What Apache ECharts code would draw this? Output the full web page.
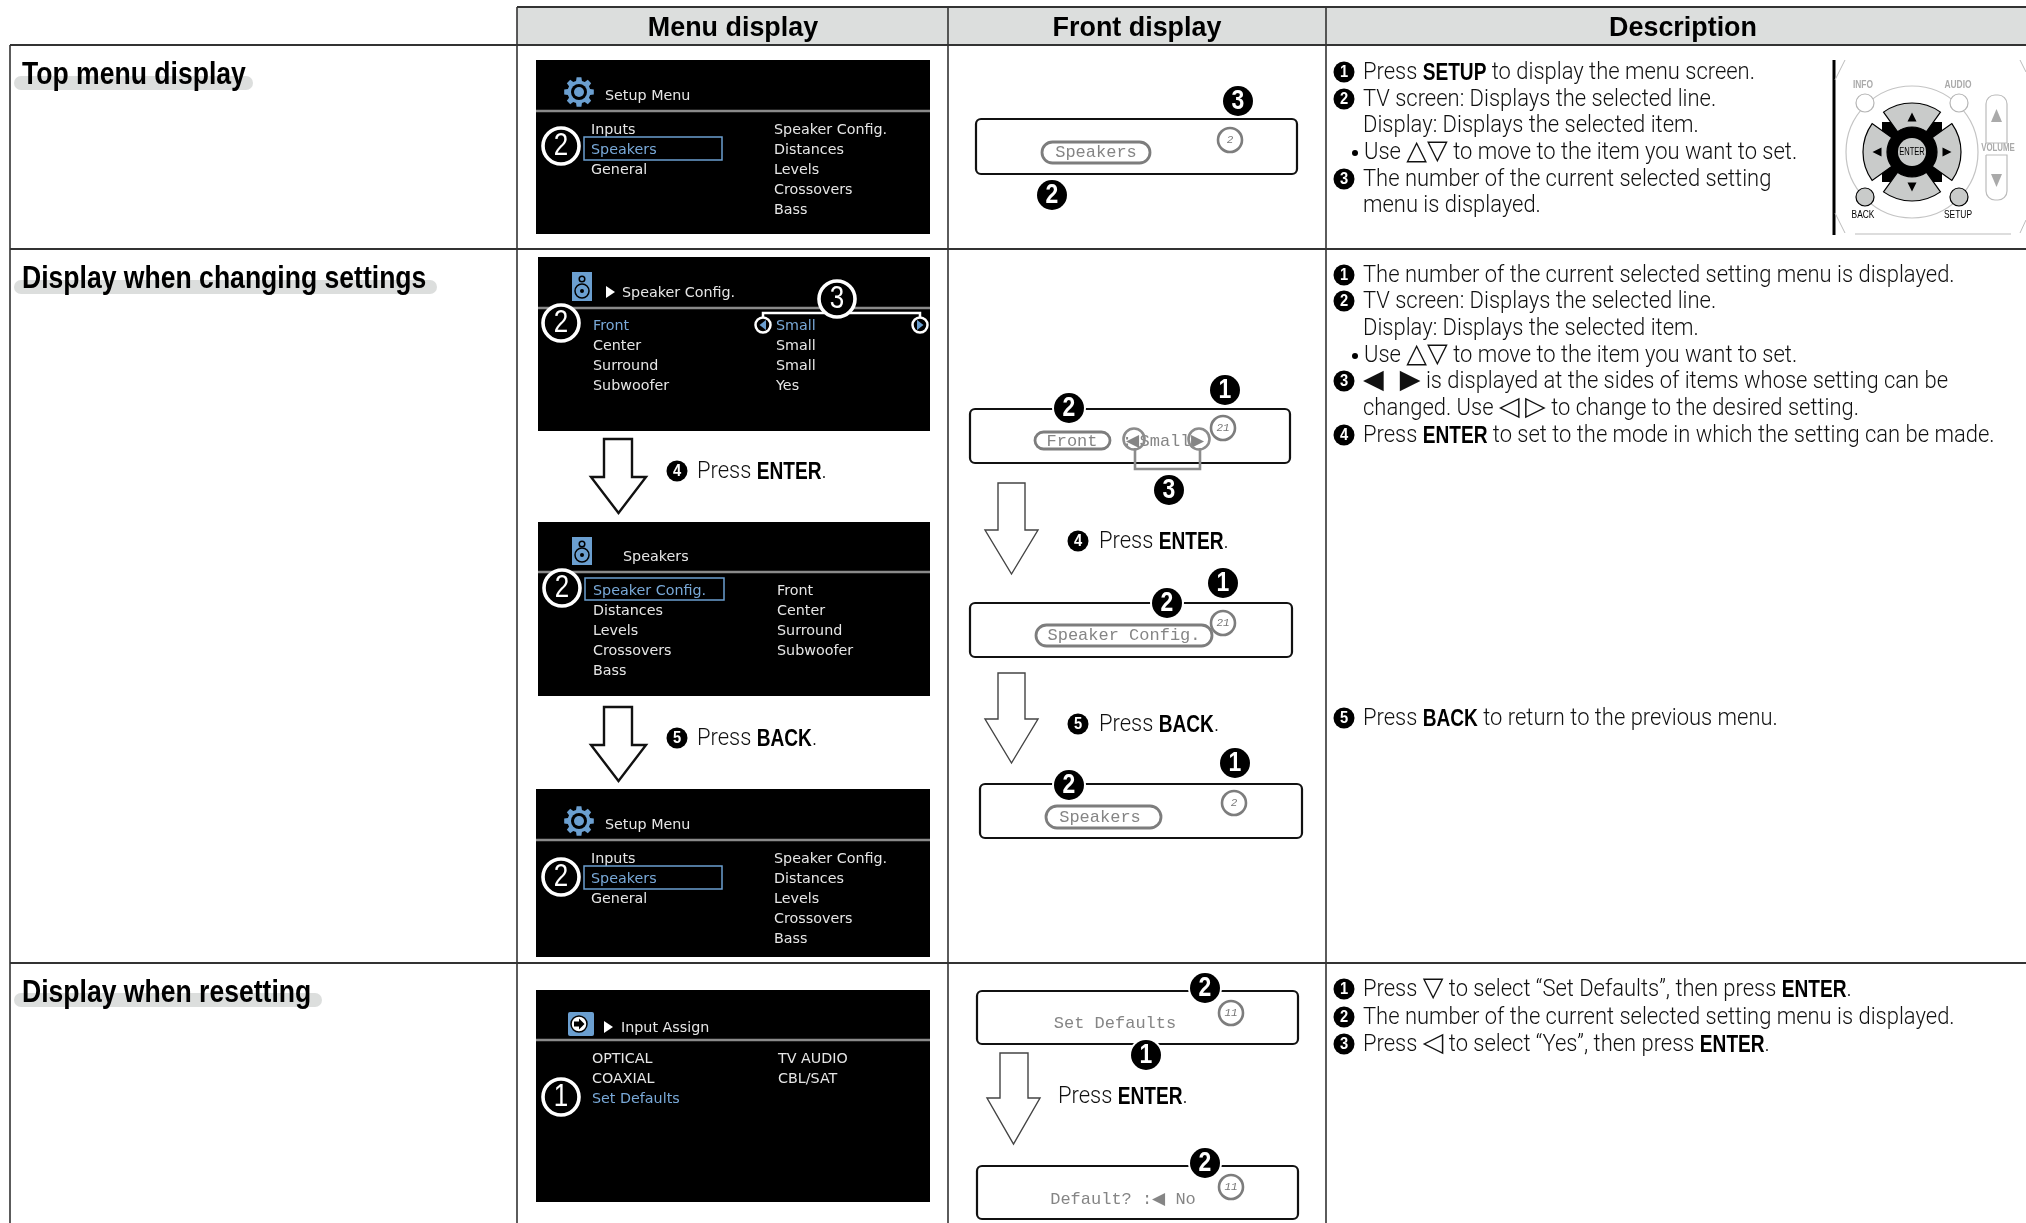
<!DOCTYPE html>
<html><head><meta charset="utf-8">
<style>html,body{margin:0;padding:0;background:#fff}#c{width:2026px;height:1223px}</style>
<script src="https://cdn.jsdelivr.net/npm/echarts@6/dist/echarts.min.js"></script>
</head><body><div id="c"></div>
<script>
// ---------- content ----------
const columnHeaders = ['Menu display','Front display','Description'];
const sectionTitles = ['Top menu display','Display when changing settings','Display when resetting'];
const setupTitle = 'Setup Menu';
const setupLeft = ['Inputs','Speakers','General'];
const setupRight = ['Speaker Config.','Distances','Levels','Crossovers','Bass'];
const configTitle = 'Speaker Config.';
const configLeft = ['Front','Center','Surround','Subwoofer'];
const configRight = ['Small','Small','Small','Yes'];
const speakersTitle = 'Speakers';
const speakersLeft = ['Speaker Config.','Distances','Levels','Crossovers','Bass'];
const speakersRight = ['Front','Center','Surround','Subwoofer'];
const inputTitle = 'Input Assign';
const inputLeft = ['OPTICAL','COAXIAL','Set Defaults'];
const inputRight = ['TV AUDIO','CBL/SAT'];
const descTop = [
 ['1','Press **SETUP** to display the menu screen.'],
 ['2','TV screen: Displays the selected line.'],
 ['','Display: Displays the selected item.'],
 ['•','Use △▽ to move to the item you want to set.'],
 ['3','The number of the current selected setting'],
 ['','menu is displayed.']];
const descChange = [
 ['1','The number of the current selected setting menu is displayed.'],
 ['2','TV screen: Displays the selected line.'],
 ['','Display: Displays the selected item.'],
 ['•','Use △▽ to move to the item you want to set.'],
 ['3','◀   ▶ is displayed at the sides of items whose setting can be'],
 ['','changed. Use ◁ ▷ to change to the desired setting.'],
 ['4','Press **ENTER** to set to the mode in which the setting can be made.']];
const descBack = [['5','Press **BACK** to return to the previous menu.']];
const descReset = [
 ['1','Press ▽ to select “Set Defaults”, then press **ENTER**.'],
 ['2','The number of the current selected setting menu is displayed.'],
 ['3','Press ◁ to select “Yes”, then press **ENTER**.']];
const remoteLabels = ['INFO','AUDIO','BACK','SETUP','VOLUME','ENTER'];

// ---------- style + helpers ----------
const SANS='"Liberation Sans"', BODY='Roboto', MENU='"DejaVu Sans"', LCD='"Liberation Mono"';
const BLUE='#79a9d8', ICON='#6b9fd0', GREY='#dcdedd', RING='#7d7d7d';
const E=[];
const rect=(x1,y1,x2,y2,o={})=>E.push({type:'rect',silent:true,shape:{x:x1,y:y1,width:x2-x1,height:y2-y1,r:o.r||0},style:{fill:o.fill||'none',stroke:o.stroke||null,lineWidth:o.lw||0}});
const line=(x1,y1,x2,y2,c='#333',lw=1.5)=>E.push({type:'line',silent:true,shape:{x1,y1,x2,y2},style:{stroke:c,lineWidth:lw}});
const circle=(cx,cy,r,o={})=>E.push({type:'circle',silent:true,shape:{cx,cy,r},style:{fill:o.fill||'none',stroke:o.stroke||null,lineWidth:o.lw||0}});
const poly=(points,o={})=>E.push({type:'polygon',silent:true,shape:{points},style:{fill:o.fill||'none',stroke:o.stroke||null,lineWidth:o.lw||0}});
const pline=(points,c,lw)=>E.push({type:'polyline',silent:true,shape:{points},style:{stroke:c,lineWidth:lw,fill:'none'}});
const text=(x,y,t,o={})=>E.push({type:'text',silent:true,scaleX:o.sx||1,x:x,y:y,style:{x:0,y:0,text:t,fill:o.fill||'#000',fontFamily:o.font||BODY,fontSize:o.size||21,fontWeight:o.weight||'normal',fontStyle:o.style||'normal',textAlign:o.align||'left',textVerticalAlign:'middle'}});
// mixed-font line: each run is its own text element, placed after the measured width of the previous run
const mctx=document.createElement('canvas').getContext('2d');
const runStyles={
  a:{font:BODY,size:23,weight:300,sx:0.955,fill:'#111',dy:2},
  b:{font:SANS,size:24.5,weight:'bold',sx:0.78,fill:'#000',dy:2},
  s:{font:MENU,size:27,weight:'normal',sx:1,fill:'#111',dy:1}
};
function bodyText(x,y,s){
  const runs=[];
  s.split('**').forEach((part,i)=>{
    if(i%2){runs.push(['b',part]);return;}
    part.split(/([△▽◁▷◀▶])/).forEach((p,j)=>{ if(p) runs.push([j%2?'s':'a',p]); });
  });
  let cx=x;
  runs.forEach(([k,t])=>{
    const st=runStyles[k];
    mctx.font=st.weight+' '+st.size+'px '+st.font;
    text(cx,y+st.dy,t,st);
    cx+=mctx.measureText(t).width*st.sx;
  });
}
function bullet(cx,cy,d,r=10.5){circle(cx,cy+1,r,{fill:'#000'});text(cx,cy+1.5,d,{font:SANS,weight:'bold',size:r*1.65,sx:.85,fill:'#fff',align:'center'});}
function bubble(cx,cy,d,r=15){circle(cx,cy,r+2,{fill:'#fff'});circle(cx,cy,r,{fill:'#000'});text(cx,cy+1,d,{font:SANS,weight:'bold',size:r*1.8,sx:.85,fill:'#fff',align:'center'});}
function ring(cx,cy,d,r=18){circle(cx,cy,r,{fill:'#000',stroke:'#fff',lw:3.6});text(cx,cy+1,d,{font:SANS,size:r*1.7,sx:.85,fill:'#fff',align:'center'});}
function descBlock(list,x,ys){list.forEach((l,i)=>{const y=ys[i];
  if(l[0]==='•'){circle(x-8,y+2,3,{fill:'#000'});bodyText(x+1,y,l[1]);return;}
  if(l[0]) bullet(x-19,y,l[0]);
  bodyText(x,y,l[1]);});}

function gear(cx,cy){const pts=[];const n=8;for(let i=0;i<n;i++){const a=i/n*2*Math.PI-Math.PI/2;
  [-.26,-.16,.16,.26].forEach((d,k)=>{const R=k==0||k==3?11.5:15;pts.push([cx+R*Math.cos(a+d),cy+R*Math.sin(a+d)]);});}
  poly(pts,{fill:ICON});circle(cx,cy,8,{fill:'#000'});circle(cx,cy,5,{fill:ICON});}
function speakerIcon(x1,y1,x2,y2){rect(x1,y1,x2,y2,{fill:ICON});const cx=(x1+x2)/2;circle(cx,y1+7,2.8,{stroke:'#000',lw:1.5});circle(cx,y2-10,7,{stroke:'#000',lw:1.5});circle(cx,y2-10,2,{fill:'#000'});}
function inputIcon(x1,y1,x2,y2){rect(x1,y1,x2,y2,{fill:ICON,r:2});const cx=(x1+x2)/2-2,cy=(y1+y2)/2;circle(cx,cy,8,{fill:'#fff',stroke:'#000',lw:1.5});poly([[cx-5,cy-2.5],[cx,cy-2.5],[cx,cy-5.5],[cx+5.5,cy],[cx,cy+5.5],[cx,cy+2.5],[cx-5,cy+2.5]],{fill:'#000'});}

function screen(o){
  rect(o.x1,o.y1,o.x2,o.y2,{fill:'#000'});
  line(o.x1,o.rule,o.x2,o.rule,'#8a8a8a',2.5);
  if(o.arrow) poly([[o.arrow,o.ty-6],[o.arrow+9,o.ty],[o.arrow,o.ty+6]],{fill:'#fff'});
  text(o.tx,o.ty+1,o.title,{font:MENU,size:14.3,fill:'#e6e6e6'});
  o.left.forEach((t,i)=>text(o.c1,o.row+1+i*20,t,{font:MENU,size:14.3,fill:i===o.hi?BLUE:'#e6e6e6'}));
  o.right.forEach((t,i)=>text(o.c2,o.row+1+i*20,t,{font:MENU,size:14.3,fill:i===o.hiR?BLUE:'#e6e6e6'}));
}
function arrow(x1,x2,wl,wr,top,sh,tip,c,lw){const mid=(wl+wr)/2;poly([[x1,top],[x2,top],[x2,sh],[wr,sh],[mid,tip],[wl,sh],[x1,sh]],{fill:'#fff',stroke:c,lw});}
function lcd(x1,y1,x2,y2){rect(x1,y1,x2,y2,{stroke:'#111',lw:2.2,r:5,fill:'#fff'});}
function pill(x1,y1,x2,y2){rect(x1,y1,x2,y2,{stroke:RING,lw:2.8,r:(y2-y1)/2,fill:'#fff'});}
const lcdText=(cx,cy,t,sz=17)=>text(cx,cy,t,{font:LCD,size:sz,fill:'#858585',align:'center'});
function mini(cx,cy,t){circle(cx,cy,12,{stroke:RING,lw:2.6,fill:'#fff'});text(cx,cy,t,{font:LCD,size:11,fill:'#777',align:'center',style:'italic'});}
const pressText=bodyText;

// ---------- table ----------
const W=2026,H=1223;
rect(517,7,W,45,{fill:GREY});
const tableC='#333';
line(517,7,W,7,tableC,1.8);
line(10,45,W,45,tableC,2);
line(10,249,W,249,tableC,2);
line(10,963,W,963,tableC,2);
line(10,45,10,H,tableC,1.6);
line(517,7,517,H,tableC,1.6);
line(948,7,948,H,tableC,1.6);
line(1326,7,1326,H,tableC,1.6);
[733,1137,1683].forEach((x,i)=>text(x,28.5,columnHeaders[i],{font:SANS,weight:'bold',size:28,sx:.96,align:'center'}));
[[14,253,76,90,75],[14,437,280,294,279],[14,322,993,1007,993]].forEach((r,i)=>{
  rect(r[0],r[2],r[1],r[3],{fill:GREY,r:7});
  text(22,r[4],sectionTitles[i],{font:SANS,weight:'bold',size:32,sx:.83});
});

// ---------- menu column ----------
screen({x1:536,x2:930,y1:60,y2:234,rule:111,title:setupTitle,tx:605,ty:95,left:setupLeft,right:setupRight,c1:591,c2:774,row:129,hi:1});
gear(579,92);rect(584,137,722,160,{stroke:ICON,lw:1.5});ring(561,146,'2');

screen({x1:538,x2:930,y1:257,y2:431,rule:308,title:configTitle,tx:622,ty:292,arrow:606,left:configLeft,right:configRight,c1:593,c2:776,row:325,hi:0,hiR:0});
speakerIcon(572,272,592,301);ring(561,323,'2');
pline([[763,325],[763,313],[920,313],[920,325]],'#fff',2.5);
[[763,1],[920,-1]].forEach(([x,d])=>{circle(x,325,7.5,{fill:'#000',stroke:'#fff',lw:2.5});poly([[x+3*d,320],[x+3*d,330],[x-3.5*d,325]],{fill:ICON});});
ring(837,299,'3');

arrow(604,632,591,646,439,477,513,'#111',2.4);
bullet(677,470,'4');pressText(697,470,'Press **ENTER**.');

screen({x1:538,x2:930,y1:522,y2:696,rule:572,title:speakersTitle,tx:623,ty:556,left:speakersLeft,right:speakersRight,c1:593,c2:777,row:590,hi:0});
speakerIcon(572,537,592,565);rect(585,578,724,600,{stroke:ICON,lw:1.5});ring(562,588,'2');

arrow(604,632,591,646,707,745,781,'#111',2.4);
bullet(677,737,'5');pressText(697,737,'Press **BACK**.');

screen({x1:536,x2:930,y1:789,y2:957,rule:840,title:setupTitle,tx:605,ty:824,left:setupLeft,right:setupRight,c1:591,c2:774,row:858,hi:1});
gear(579,821);rect(584,866,722,889,{stroke:ICON,lw:1.5});ring(561,877,'2');

screen({x1:536,x2:930,y1:990,y2:1202,rule:1040,title:inputTitle,tx:621,ty:1027,arrow:604,left:inputLeft,right:inputRight,c1:592,c2:778,row:1058,hi:2});
inputIcon(568,1012,594,1036);ring(561,1097,'1');

// ---------- front display column ----------
lcd(976,119,1297,174);pill(1042,142,1150,163);lcdText(1096,152,'Speakers');mini(1230,140,'2');
bubble(1238,101,'3');bubble(1052,195,'2');

lcd(970,409,1290,463);pill(1035,432,1110,449);lcdText(1072,441,'Front');
text(1122,441,':',{font:LCD,size:17,fill:'#858585'});lcdText(1165,441,'◀Small▶');
pline([[1135,448],[1135,469],[1200,469],[1200,448]],'#8c8c8c',2.6);
circle(1134,439,10.5,{stroke:'#8c8c8c',lw:2.6});circle(1199,439,10.5,{stroke:'#8c8c8c',lw:2.6});
bubble(1069,408,'2');bubble(1225,390,'1');bubble(1169,490,'3');mini(1223,428,'21');

arrow(998,1025,985,1038,483,530,574,'#444',1.4);
bullet(1078,540,'4');pressText(1099,540,'Press **ENTER**.');

lcd(970,603,1292,657);pill(1036,625,1212,646);lcdText(1124,635,'Speaker Config.');mini(1223,623,'21');
bubble(1167,603,'2');bubble(1223,583,'1');

arrow(998,1025,985,1038,673,719,763,'#444',1.4);
bullet(1078,723,'5');pressText(1099,723,'Press **BACK**.');

lcd(980,784,1302,838);pill(1046,806,1161,828);lcdText(1100,817,'Speakers');mini(1234,803,'2');
bubble(1069,785,'2');bubble(1235,763,'1');

lcd(977,991,1298,1044);lcdText(1115,1023,'Set Defaults');mini(1231,1013,'11');
bubble(1205,988,'2');bubble(1146,1055,'1');
arrow(1000,1028,987,1040,1053,1098,1144,'#444',1.4);
pressText(1058,1095,'Press **ENTER**.');
lcd(977,1166,1298,1219);lcdText(1123,1199,'Default? :◀ No');mini(1231,1187,'11');
bubble(1205,1163,'2');

// ---------- description column ----------
descBlock(descTop,1363,[71,98,124,151,178,204]);
descBlock(descChange,1363,[274,300,327,354,380,407,434]);
descBlock(descBack,1363,[717]);
descBlock(descReset,1363,[988,1016,1043]);

// ---------- remote ----------
line(1834,60,1834,235,'#000',3);
[[1845,60,1835,80],[1835,213,1845,233],[2020,60,2026,72],[2026,220,2020,233],[1855,234,2011,234]].forEach(l=>line(l[0],l[1],l[2],l[3],'#bbb',1));
const RX=1912,RY=152;
circle(RX,RY,66,{stroke:'#c4c4c4',lw:1.2});
rect(RX-30,RY-30,RX+30,RY+30,{fill:'#000'});
circle(RX,RY,27,{fill:'#000'});
[-Math.PI/2,0,Math.PI/2,Math.PI].forEach(a=>{
  E.push({type:'sector',silent:true,shape:{cx:RX,cy:RY,r0:25,r:49,startAngle:a-0.62,endAngle:a+0.62},style:{fill:'#c9cbca',stroke:'#000',lineWidth:1.2}});
  const c=Math.cos(a),s=Math.sin(a),m=35,h=4.5;
  poly([[RX+c*(m+h),RY+s*(m+h)],[RX+c*(m-h)-s*h,RY+s*(m-h)+c*h],[RX+c*(m-h)+s*h,RY+s*(m-h)-c*h]],{fill:'#000'});
});
circle(RX,RY,14,{fill:'#c9cbca'});
text(RX,RY,remoteLabels[5],{font:SANS,size:10.5,sx:.72,align:'center'});
circle(1865,103,9,{fill:'#fff',stroke:'#b5b5b5',lw:1.2});circle(1959,103,9,{fill:'#fff',stroke:'#b5b5b5',lw:1.2});
circle(1865,197,9,{fill:'#c9cbca',stroke:'#000',lw:1.2});circle(1959,197,9,{fill:'#c9cbca',stroke:'#000',lw:1.2});
text(1863,85,remoteLabels[0],{font:SANS,weight:'bold',size:10.5,sx:.8,fill:'#aaa',align:'center'});
text(1958,85,remoteLabels[1],{font:SANS,weight:'bold',size:10.5,sx:.8,fill:'#aaa',align:'center'});
text(1863,215,remoteLabels[2],{font:SANS,size:10.5,sx:.8,align:'center'});
text(1958,215,remoteLabels[3],{font:SANS,size:10.5,sx:.8,align:'center'});
text(1998,148,remoteLabels[4],{font:SANS,weight:'bold',size:10.5,sx:.75,fill:'#aaa',align:'center'});
rect(1986,95,2007,143,{stroke:'#bbb',lw:1.2,r:[9,9,0,0]});
rect(1986,155,2007,200,{stroke:'#bbb',lw:1.2,r:[0,0,9,9]});
poly([[1996.5,109],[2002,122],[1991,122]],{fill:'#aaa'});
poly([[1996.5,187],[2002,174],[1991,174]],{fill:'#aaa'});

const chart=echarts.init(document.getElementById('c'),null,{renderer:'canvas',width:W,height:H});
chart.setOption({animation:false,backgroundColor:'#fff',graphic:{elements:E}});
</script></body></html>
